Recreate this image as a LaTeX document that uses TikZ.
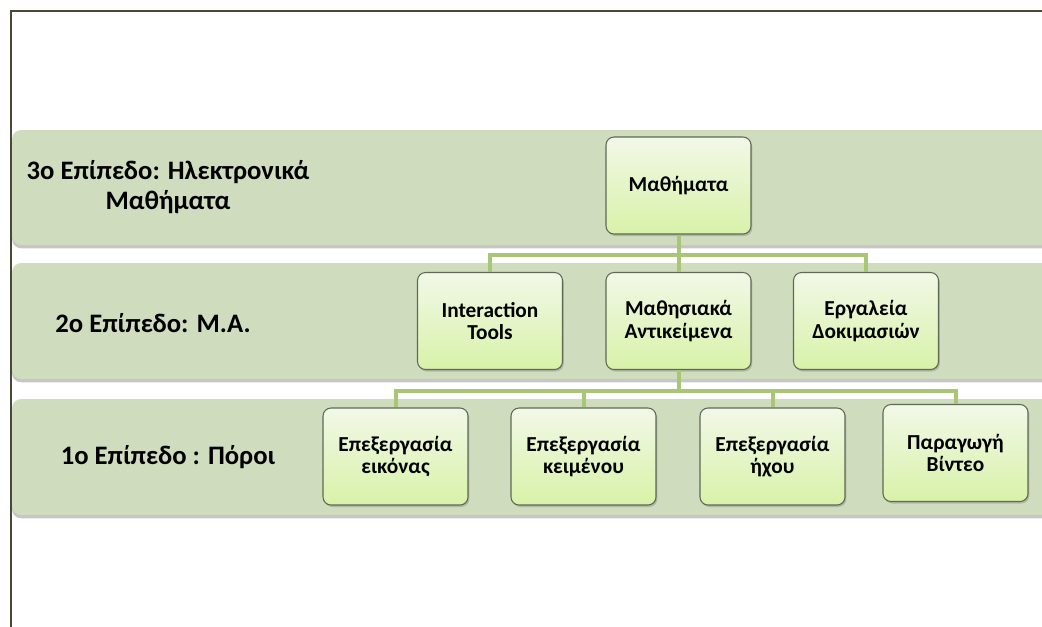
\documentclass[tikz,border=0pt]{standalone}
\usepackage{fontspec}
\setmainfont{Carlito}
\usetikzlibrary{shadows}

\definecolor{bandgreen}{RGB}{208,220,190}
\definecolor{boxtop}{RGB}{242,248,232}
\definecolor{boxbot}{RGB}{216,242,168}
\definecolor{boxedge}{RGB}{95,105,85}
\definecolor{linkgreen}{RGB}{168,198,118}
\definecolor{framecol}{RGB}{75,72,55}

\tikzset{
  band/.style={fill=bandgreen, rounded corners=7pt,
    drop shadow={shadow xshift=0pt, shadow yshift=-2.5pt, opacity=0.45}},
  levelbox/.style={draw=boxedge, line width=0.8pt, rounded corners=6pt,
    top color=boxtop, bottom color=boxbot, align=center,
    minimum width=108.75pt, minimum height=72.75pt,
    font=\fontsize{16}{16.8}\selectfont\bfseries,
    drop shadow={shadow xshift=1pt, shadow yshift=-1.5pt, opacity=0.4}},
  levellabel/.style={align=center, font=\fontsize{20}{22.5}\selectfont\bfseries},
  link/.style={draw=linkgreen, line width=3pt},
}

\begin{document}
\begin{tikzpicture}[x=0.75pt, y=-0.75pt] % one unit = one pixel, y downwards

\useasboundingbox (0,0) rectangle (1042,626);
\clip (0,0) rectangle (1042,626);

% frame of the slide
\draw[framecol, line width=1.5pt] (11,700) -- (11,11) -- (1100,11);

% the three levels
\fill[band] (12,130) rectangle (1080,245);
\fill[band] (12,263) rectangle (1080,379);
\fill[band] (12,399) rectangle (1080,515);

\node[levellabel] (lev3) at (168,187) {3ο Επίπεδο: Ηλεκτρονικά\\Μαθήματα};
\node[levellabel] (lev2) at (153,323) {2ο Επίπεδο: Μ.Α.};
\node[levellabel] (lev1) at (168,457) {1ο Επίπεδο : Πόροι};

% boxes
\node[levelbox] (mathimata) at (678.5,185.5) {Μαθήματα};

\node[levelbox] (interaction) at (490,321) {Interaction\\Tools};
\node[levelbox] (antik) at (678.5,321) {Μαθησιακά\\Αντικείμενα};
\node[levelbox] (dokim) at (866,321) {Εργαλεία\\Δοκιμασιών};

\node[levelbox] (eikona) at (395.5,456.5) {Επεξεργασία\\εικόνας};
\node[levelbox] (keimeno) at (583.5,456.5) {Επεξεργασία\\κειμένου};
\node[levelbox] (ixos) at (772.5,456.5) {Επεξεργασία\\ήχου};
\node[levelbox] (video) at (955.5,453) {Παραγωγή\\Βίντεο};

% connectors
\coordinate (bus2) at (678.5,255);
\coordinate (bus1) at (678.5,391);

\draw[link] (mathimata.south) -- (antik.north);
\draw[link] (interaction.north) |- (bus2) -| (dokim.north);

\draw[link] (antik.south) -- (bus1);
\draw[link] (eikona.north) |- (bus1) -| (video.north);
\foreach \n in {keimeno, ixos}
  \draw[link] (\n.north) -- (\n.north |- bus1);
\end{tikzpicture}
\end{document}
